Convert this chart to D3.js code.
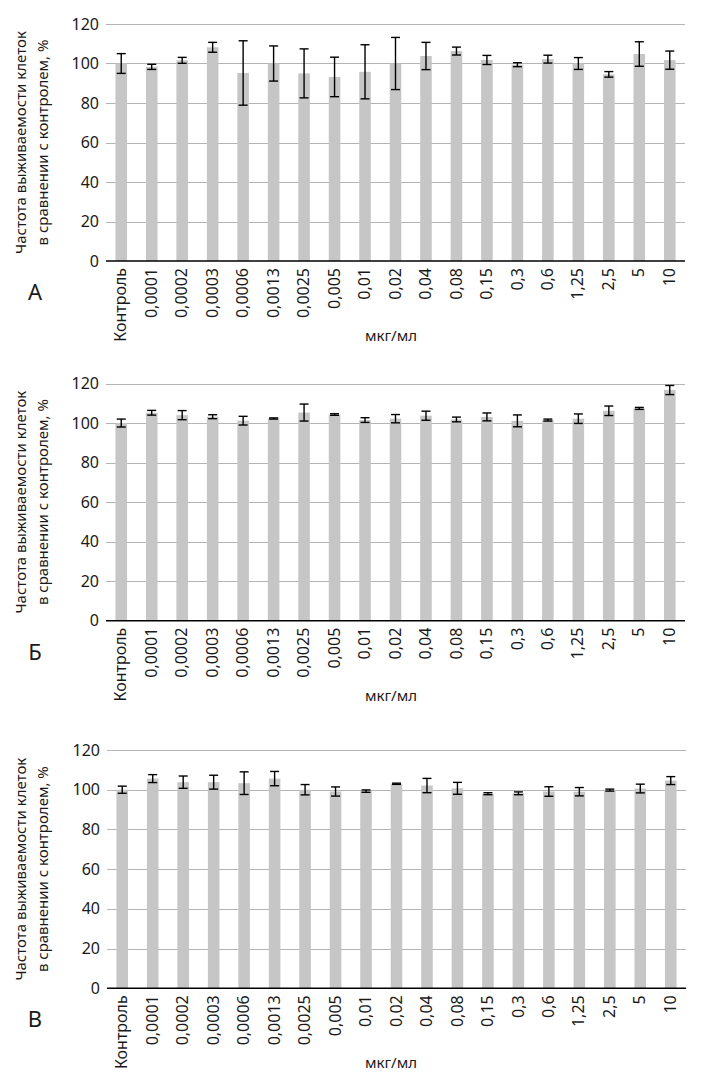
<!DOCTYPE html>
<html><head><meta charset="utf-8">
<script src="https://cdn.jsdelivr.net/npm/d3@7"></script>
<style>body{margin:0;background:#fff}svg{display:block}text{font-family:"Noto Sans",sans-serif;fill:#1a1a1a}</style>
</head><body>
<svg id="c" width="711" height="1092"></svg>
<script>
const categories = ["Контроль","0,0001","0,0002","0,0003","0,0006","0,0013","0,0025","0,005","0,01","0,02","0,04","0,08","0,15","0,3","0,6","1,25","2,5","5","10"];
const yTicks = [0,20,40,60,80,100,120];
const panelLabels = ["А","Б","В"];
const xTitle = "мкг/мл";
const yTitle = ["Частота выживаемости клеток","в сравнении с контролем, %"];

const valuesA = [100,98.3,101.6,108.2,95.2,100,95.0,93.2,95.8,100,103.8,106.3,101.8,99.4,102.2,100,94.5,104.8,101.7];
const errorsA = [5,1.3,1.5,2.5,16.3,8.9,12.4,10,13.7,13.2,6.9,2,2.3,1,2,3,1.4,6.2,4.6];
const valuesB = [100,105.2,104,103.2,101.2,102.3,105.3,104.3,101.5,102.2,103.7,101.8,103.1,101.1,101.5,102.2,106.2,107.4,116.7];
const errorsB = [2,1.2,2.3,1,2.2,0.3,4.3,0.4,1.2,2.1,2.3,1.2,2,3,0.5,2.4,2.4,0.5,2.3];
const valuesC = [100,105.6,103.8,103.8,103.3,105.6,100,99.1,99.3,103,102.1,100.7,98,98.2,99.1,99,99.8,100.6,104.6];
const errorsC = [1.8,2,3.1,3.5,5.7,3.6,2.6,2.3,0.6,0.3,3.6,3,0.5,0.7,2.4,2.1,0.5,2.2,2];

const panels = [
  {values:valuesA, errors:errorsA, label:panelLabels[0], top:24, bottom:261, left:106, right:685},
  {values:valuesB, errors:errorsB, label:panelLabels[1], top:383.5, bottom:620.7, left:106, right:685},
  {values:valuesC, errors:errorsC, label:panelLabels[2], top:750, bottom:988.3, left:107, right:686}
];

const svg = d3.select("#c");
panels.forEach(p => {
  const g = svg.append("g");
  const x = d3.scaleBand().domain(categories).range([p.left, p.right]).paddingInner(0.62).paddingOuter(0.31);
  const y = d3.scaleLinear().domain([0,120]).range([p.bottom, p.top]);
  // gridlines
  g.selectAll("line.grid").data(yTicks.filter(t=>t>0)).join("line")
    .attr("x1", p.left).attr("x2", p.right)
    .attr("y1", d=>Math.round(y(d))+0.5).attr("y2", d=>Math.round(y(d))+0.5)
    .attr("stroke", "#b4b4b4").attr("stroke-width", 1);
  // y axis labels
  const ya = d3.axisLeft(y).tickValues(yTicks).tickSize(0).tickPadding(7);
  const yg = g.append("g").attr("transform", `translate(${p.left},0)`).call(ya);
  yg.select(".domain").remove();
  yg.selectAll("text").style("font-size","16px").style("font-family","Noto Sans").attr("fill","#1a1a1a");
  // bars
  g.selectAll("rect.bar").data(categories).join("rect")
    .attr("x", d=>x(d)).attr("width", x.bandwidth())
    .attr("y", (d,i)=>y(p.values[i])).attr("height", (d,i)=>y(0)-y(p.values[i]))
    .attr("fill", "#c6c6c6");
  // error bars
  const cap = 4.5;
  const eg = g.selectAll("g.err").data(categories).join("g");
  eg.append("line").attr("x1", d=>x(d)+x.bandwidth()/2).attr("x2", d=>x(d)+x.bandwidth()/2)
    .attr("y1",(d,i)=>y(p.values[i]+p.errors[i])).attr("y2",(d,i)=>y(p.values[i]-p.errors[i]));
  eg.append("line").attr("x1", d=>x(d)+x.bandwidth()/2-cap).attr("x2", d=>x(d)+x.bandwidth()/2+cap)
    .attr("y1",(d,i)=>y(p.values[i]+p.errors[i])).attr("y2",(d,i)=>y(p.values[i]+p.errors[i]));
  eg.append("line").attr("x1", d=>x(d)+x.bandwidth()/2-cap).attr("x2", d=>x(d)+x.bandwidth()/2+cap)
    .attr("y1",(d,i)=>y(p.values[i]-p.errors[i])).attr("y2",(d,i)=>y(p.values[i]-p.errors[i]));
  eg.selectAll("line").attr("stroke","#000").attr("stroke-width",1.4);
  // x axis
  const xa = d3.axisBottom(x).tickSize(0).tickPadding(0);
  const xg = g.append("g").attr("transform", `translate(0,${p.bottom})`).call(xa);
  xg.select(".domain").attr("stroke","#000").attr("stroke-width",1.6).attr("d", `M${p.left},0H${p.right}`);
  xg.selectAll("text").style("font-size","16px").style("font-family","Noto Sans").attr("fill","#1a1a1a")
    .attr("text-anchor","end").attr("transform","rotate(-90)")
    .attr("x",-7).attr("y",0).attr("dy","0.32em");
  // x title
  g.append("text").attr("x", 391).attr("y", p.bottom+80).attr("text-anchor","middle")
    .style("font-size","15px").text(xTitle);
  // y title
  const cy = (p.top+p.bottom)/2;
  g.append("text").attr("transform", `translate(26,${cy}) rotate(-90)`).attr("text-anchor","middle")
    .style("font-size","15px").text(yTitle[0]);
  g.append("text").attr("transform", `translate(48,${cy}) rotate(-90)`).attr("text-anchor","middle")
    .style("font-size","15px").text(yTitle[1]);
  // panel label
  g.append("text").attr("x", 35).attr("y", p.bottom+39).attr("text-anchor","middle")
    .style("font-size","22px").text(p.label);
});
</script>
</body></html>
